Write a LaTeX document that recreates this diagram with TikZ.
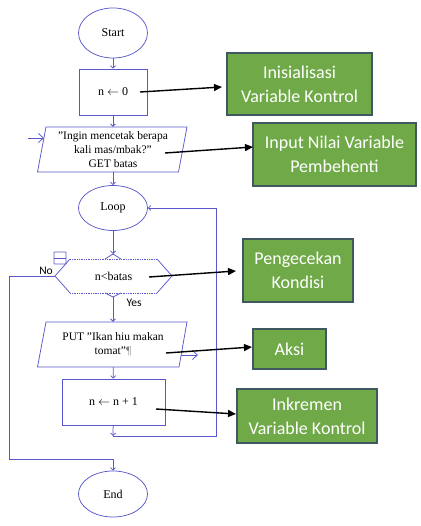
\documentclass[tikz,border=0pt]{standalone}
\usepackage{fontspec}
\setmainfont{Liberation Serif}
\newfontfamily\calibri{Carlito}
\usetikzlibrary{arrows.meta,shapes.geometric}
\definecolor{flowblue}{RGB}{88,88,204}
\definecolor{gfill}{RGB}{112,170,72}
\definecolor{gborder}{RGB}{64,88,96}
\begin{document}
\begin{tikzpicture}[x=1pt,y=-1pt,
  flow/.style={draw=flowblue, line width=0.75pt},
  fa/.style={flow, -{Straight Barb[length=2.5pt,width=5pt]}},
  openarrow/.style={flow, -{Straight Barb[length=5pt,width=9pt]}},
  term/.style={flow, ellipse, minimum width=69pt, inner sep=0pt, font=\fontsize{12}{13}\selectfont},
  proc/.style={flow, rectangle, inner sep=0pt, font=\fontsize{12}{13}\selectfont},
  txt/.style={inner sep=0pt, align=center, font=\fontsize{11.5}{14}\selectfont},
  lbl/.style={inner sep=0pt, font=\calibri\fontsize{11.5}{13}\selectfont},
  note/.style={draw=gborder, line width=1.2pt, fill=gfill, text=white, inner sep=0pt, align=center, font=\calibri\fontsize{18}{24}\selectfont},
  pointer/.style={line width=1.4pt, -{Triangle[length=8pt,width=7pt]}},
]
\useasboundingbox (0,0) rectangle (420,526);

% flowchart nodes
\node[term, minimum height=50pt] (start) at (113,33) {Start};
\node[proc, minimum width=68pt, minimum height=46pt] (init) at (113,92) {n $\leftarrow$ 0};
\node[txt, minimum width=141pt, minimum height=45pt] (input) at (113,149.5) {"Ingin mencetak berapa\\kali mas/mbak?"\\GET batas};
\draw[flow] (46,127) -- (187,127) -- (178.5,172) -- (37.5,172) -- cycle;
\node[term, minimum height=45pt] (loop) at (113,208) {Loop};
\node[txt, minimum width=117pt, minimum height=34pt, font=\fontsize{12}{13}\selectfont] (dec) at (113.5,276) {n<batas};
\draw[flow] (70,259) -- (55,276) -- (70,293);
\draw[flow] (157,259) -- (172,276) -- (157,293);
\draw[flow, densely dotted, line width=0.5pt] (70,259) -- (157,259);
\draw[flow, densely dotted, line width=0.5pt] (70,293) -- (157,293);
\draw[flow] (105,259) -- (113,254) -- (121,259);
\draw[flow] (105,293) -- (113,297) -- (121,293);
\coordinate (chevtop) at (113,254);
\coordinate (chevbot) at (113,297);
\draw[flow, line width=0.6pt, rounded corners=0.6pt] (54,252) rectangle (66,264);
\draw[flow, line width=0.6pt] (54,258) -- (66,258);
\node[lbl] (no) at (46,271) {No};
\node[lbl] (yes) at (134,303) {Yes};
\node[txt, minimum width=141pt, minimum height=45pt] (put) at (113,344.5) {PUT "Ikan hiu makan\\tomat"{\color{gray}¶}};
\draw[flow] (46,322) -- (187,322) -- (179,367) -- (37.5,367) -- cycle;
\node[proc, minimum width=103pt, minimum height=46pt] (inc) at (113.5,402) {n $\leftarrow$ n + 1};
\node[term, minimum height=46pt] (end) at (113,494) {End};

% flow connectors
\draw[fa] (start) -- (init);
\draw[fa] (init) -- (input);
\draw[fa] (input) -- (loop);
\draw[fa] (loop) -- (chevtop);
\draw[fa] (chevbot) -- (put);
\draw[fa] (put) -- (inc);
\coordinate (j) at (113,436);
\coordinate (jr) at (216,436);
\draw[fa] (inc) -- (j);
\draw[fa] (j) -- (jr) |- (loop.east);
\coordinate (nl) at (9,276);
\coordinate (nb) at (9,459);
\coordinate (nj) at (113,459);
\draw[fa] (dec.west) -- (nl) -- (nb) -- (nj) -- (end.north);
\coordinate (ia) at (28,138);
\coordinate (ib) at (44,138);
\draw[openarrow] (ia) -- (ib);
\coordinate (pa) at (181,355);
\coordinate (pb) at (198,355);
\draw[openarrow] (pa) -- (pb);

% green notes
\node[note, minimum width=145pt, minimum height=62pt] (g1) at (299.5,84) {Inisialisasi\\Variable Kontrol};
\node[note, minimum width=163pt, minimum height=63pt] (g2) at (334.5,154.5) {Input Nilai Variable\\Pembehenti};
\node[note, minimum width=110pt, minimum height=63pt] (g3) at (298,270.5) {Pengecekan\\Kondisi};
\node[note, minimum width=73pt, minimum height=40pt] (g4) at (289.5,349) {Aksi};
\node[note, minimum width=140pt, minimum height=54pt] (g5) at (307,416) {Inkremen\\Variable Kontrol};

% black pointers
\coordinate (s1) at (140,92);  \coordinate (e1) at (222,87);
\coordinate (s2) at (165,153); \coordinate (e2) at (253,147);
\coordinate (s3) at (149,277); \coordinate (e3) at (236,271);
\coordinate (s4) at (166,353); \coordinate (e4) at (252,347);
\coordinate (s5) at (156,409); \coordinate (e5) at (236,414);
\draw[pointer] (s1) -- (e1);
\draw[pointer] (s2) -- (e2);
\draw[pointer] (s3) -- (e3);
\draw[pointer] (s4) -- (e4);
\draw[pointer] (s5) -- (e5);
\end{tikzpicture}
\end{document}
